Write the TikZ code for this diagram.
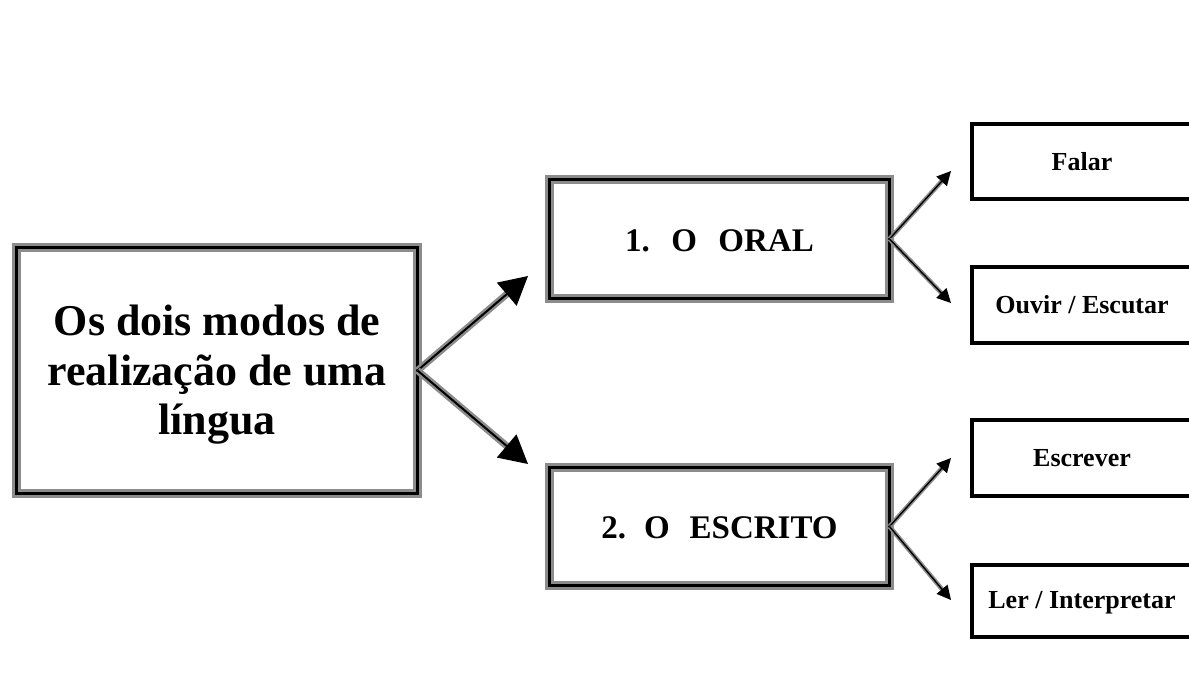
\documentclass[tikz,border=0pt]{standalone}
\usepackage{fontspec}
\setmainfont{Liberation Serif}
\usetikzlibrary{arrows.meta}
\tikzset{
  x=1pt,y=-1pt,
  triplebox/.style={rectangle, inner sep=0pt, outer sep=0pt, draw=black, line width=2.2pt,
    preaction={draw=black!45, line width=9pt}, align=center, font=\bfseries},
  plainbox/.style={rectangle, inner sep=0pt, outer sep=0pt, draw=black, line width=4pt,
    minimum width=220pt, font=\bfseries\fontsize{26}{30}\selectfont},
  bigshaft/.style={draw=black!45, line width=7pt, shorten >=22pt},
  bighead/.style={draw=black, line width=2pt, -{Triangle[length=28pt,width=30pt]}},
  smallshaft/.style={draw=black!45, line width=4.5pt, shorten >=10pt},
  smallhead/.style={draw=black, line width=1.4pt, -{Triangle[length=14pt,width=14pt]}},
}
\begin{document}
\begin{tikzpicture}
\clip (0,0) rectangle (1189,697);
\fill[white] (0,0) rectangle (1189,697);
% main boxes
\node[triplebox, minimum width=401pt, minimum height=246pt,
      font=\bfseries\fontsize{44}{49.5}\selectfont] (main) at (217,370.5)
  {\raisebox{-5pt}[\height][\depth]{\begin{tabular}{@{}c@{}}Os dois modos de\\realização de uma\\língua\end{tabular}}};
\node[triplebox, minimum width=340pt, minimum height=119pt,
      font=\bfseries\fontsize{33}{40}\selectfont] (oral) at (719.5,239)
  {\raisebox{-2pt}[\height][\depth]{1.\hspace{0.65em}O\hspace{0.65em}ORAL}};
\node[triplebox, minimum width=340pt, minimum height=118pt,
      font=\bfseries\fontsize{33}{40}\selectfont] (escrito) at (719.5,526.5)
  {\raisebox{-1pt}[\height][\depth]{2.\hspace{0.55em}O\hspace{0.6em}ESCRITO}};
% right boxes
\node[plainbox, minimum height=75pt] (falar) at (1082,161.5) {Falar};
\node[plainbox, minimum height=76pt] (ouvir) at (1082,305) {Ouvir / Escutar};
\node[plainbox, minimum height=76pt] (escrever) at (1082,458) {Escrever};
\node[plainbox, minimum height=72pt] (ler) at (1082,601) {\raisebox{-2pt}[\height][\depth]{Ler / Interpretar}};
% arrow tips
\coordinate (tOral) at (528,276);
\coordinate (tEscrito) at (528,464);
\coordinate (tFalar) at (951,171);
\coordinate (tOuvir) at (951,303);
\coordinate (tEscrever) at (951,458);
\coordinate (tLer) at (951,600);
% big arrows
\draw[bigshaft] (main.east) -- (tOral);
\draw[bighead] (main.east) -- (tOral);
\draw[bigshaft] (main.east) -- (tEscrito);
\draw[bighead] (main.east) -- (tEscrito);
% small arrows
\draw[smallshaft] (oral.east) -- (tFalar);
\draw[smallhead] (oral.east) -- (tFalar);
\draw[smallshaft] (oral.east) -- (tOuvir);
\draw[smallhead] (oral.east) -- (tOuvir);
\draw[smallshaft] (escrito.east) -- (tEscrever);
\draw[smallhead] (escrito.east) -- (tEscrever);
\draw[smallshaft] (escrito.east) -- (tLer);
\draw[smallhead] (escrito.east) -- (tLer);
\end{tikzpicture}
\end{document}
